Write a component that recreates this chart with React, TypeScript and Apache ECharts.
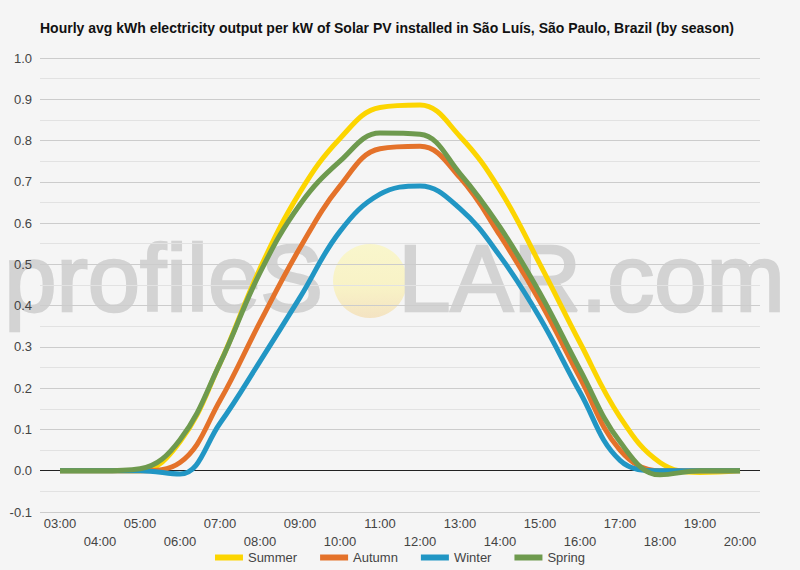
import React, { useEffect, useRef } from 'react';
import * as echarts from 'echarts';

const hours = ['03:00', '04:00', '05:00', '06:00', '07:00', '08:00', '09:00', '10:00', '11:00', '12:00', '13:00', '14:00', '15:00', '16:00', '17:00', '18:00', '19:00', '20:00'];
const summer = [0, 0, 0, 0.07, 0.26, 0.49, 0.675, 0.805, 0.88, 0.886, 0.81, 0.68, 0.5, 0.31, 0.13, 0.02, -0.004, 0];
const autumn = [0, 0, 0, 0.02, 0.17, 0.36, 0.54, 0.69, 0.78, 0.786, 0.71, 0.57, 0.41, 0.225, 0.05, 0.0, 0, 0];
const winter = [0, 0, 0, -0.008, 0.115, 0.265, 0.42, 0.58, 0.67, 0.69, 0.635, 0.52, 0.37, 0.19, 0.025, 0, 0, 0];
const spring = [0, 0, 0.005, 0.075, 0.26, 0.48, 0.645, 0.75, 0.818, 0.815, 0.72, 0.59, 0.43, 0.245, 0.07, -0.01, 0, 0];
const seriesNames = ['Summer', 'Autumn', 'Winter', 'Spring'];
const seriesColors = ['#FCD500', '#E4722A', '#2196C4', '#6E9A4E'];
const titleText = 'Hourly avg kWh electricity output per kW of Solar PV installed in São Luís, São Paulo, Brazil (by season)';

const FONT = '"Liberation Sans", Arial, sans-serif';

export default function App() {
  const ref = useRef<HTMLDivElement>(null);
  useEffect(() => {
    const chart = echarts.init(ref.current!, null, { renderer: 'svg' });
    const data = [summer, autumn, winter, spring];
    const splitColors = ['#cccccc', '#222222', '#cccccc', '#cccccc', '#cccccc', '#cccccc', '#cccccc', '#cccccc', '#cccccc', '#cccccc', '#cccccc', '#cccccc'];
    const wmColor = '#d3d3d3';
    chart.setOption({
      animation: false,
      backgroundColor: '#f5f5f5',
      textStyle: { fontFamily: FONT },
      title: {
        text: titleText,
        left: 40,
        top: 21,
        padding: 0,
        textStyle: { fontSize: 14, fontWeight: 'bold', color: '#111', fontFamily: FONT },
      },
      graphic: [
        {
          type: 'text',
          z: -10,
          left: 3,
          top: 230,
          style: { text: 'profileS', fontSize: 94, fontFamily: FONT, fill: wmColor, stroke: wmColor, lineWidth: 2.5 },
        },
        {
          type: 'circle',
          z: -10,
          shape: { cx: 370, cy: 281, r: 37 },
          style: {
            fill: new echarts.graphic.LinearGradient(0, 0, 0, 1, [
              { offset: 0, color: '#f9f6cc' },
              { offset: 0.6, color: '#f8f2c6' },
              { offset: 1, color: '#f4e3c2' },
            ]),
          },
        },
        {
          type: 'text',
          z: -10,
          right: 14,
          top: 230,
          style: { text: 'LAR.com', fontSize: 94, fontFamily: FONT, fill: wmColor, stroke: wmColor, lineWidth: 2.5 },
        },
      ],
      legend: {
        bottom: 1,
        left: 'center',
        icon: 'rect',
        itemWidth: 28,
        itemHeight: 6,
        itemGap: 23,
        textStyle: { fontSize: 13, color: '#444', fontFamily: FONT },
        data: seriesNames,
      },
      grid: { left: 40, right: 40, top: 58, bottom: 58 },
      xAxis: {
        type: 'category',
        data: hours,
        boundaryGap: true,
        axisLine: { show: false },
        axisTick: { show: false },
        axisLabel: {
          interval: 0,
          margin: 2,
          fontSize: 13,
          lineHeight: 18,
          color: '#444',
          fontFamily: FONT,
          formatter: (v: string, i: number) => (i % 2 === 0 ? v : '\n' + v),
        },
        splitLine: { show: false },
      },
      yAxis: {
        type: 'value',
        min: -0.1,
        max: 1.0,
        interval: 0.1,
        axisLine: { show: false },
        axisTick: { show: false },
        axisLabel: {
          margin: 8,
          fontSize: 13,
          color: '#444',
          fontFamily: FONT,
          formatter: (v: number) => v.toFixed(1),
        },
        splitLine: { show: true, lineStyle: { color: splitColors, width: 1 } },
        minorTick: { show: false, splitNumber: 2 },
        minorSplitLine: { show: true, lineStyle: { color: '#e2e2e2', width: 1 } },
      },
      series: seriesNames.map((name, i) => ({
        name,
        type: 'line',
        data: data[i],
        smooth: 0.4,
        showSymbol: false,
        symbol: 'none',
        color: seriesColors[i],
        lineStyle: { width: 5, color: seriesColors[i] },
        z: 2 + i,
      })),
    });
    return () => chart.dispose();
  }, []);
  return <div ref={ref} style={{ position: 'absolute', left: 0, top: 0, width: 800, height: 570 }} />;
}
